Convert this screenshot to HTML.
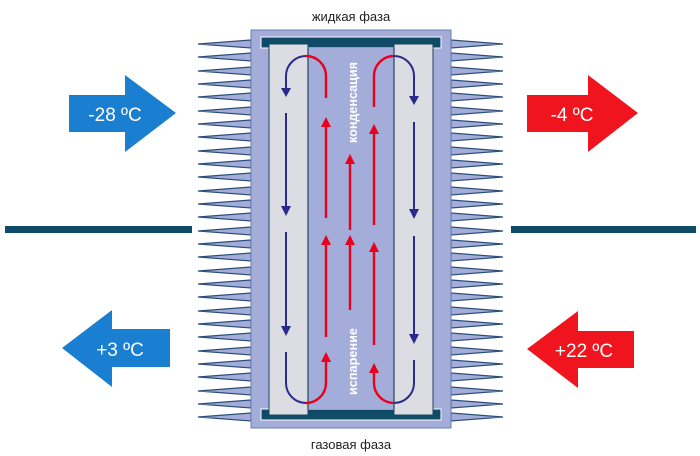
<!DOCTYPE html><html><head><meta charset="utf-8"><style>body{margin:0;background:#fff}svg{display:block}</style></head><body>
<svg width="700" height="456" viewBox="0 0 700 456" xmlns="http://www.w3.org/2000/svg" font-family="Liberation Sans, DejaVu Sans, sans-serif">
<g fill="#a4add9" stroke="#2c4f7a" stroke-width="1.2">
<path d="M251,40 L198,44 L251,48 Z M251,53 L198,57 L251,61 Z M251,67 L198,71 L251,75 Z M251,80 L198,84 L251,88 Z M251,93 L198,97 L251,101 Z M251,107 L198,111 L251,115 Z M251,120 L198,124 L251,128 Z M251,133 L198,137 L251,141 Z M251,147 L198,151 L251,155 Z M251,160 L198,164 L251,168 Z M251,173 L198,177 L251,181 Z M251,187 L198,191 L251,195 Z M251,200 L198,204 L251,208 Z M251,213 L198,217 L251,221 Z M251,227 L198,231 L251,235 Z M251,240 L198,244 L251,248 Z M251,253 L198,257 L251,261 Z M251,267 L198,271 L251,275 Z M251,280 L198,284 L251,288 Z M251,293 L198,297 L251,301 Z M251,307 L198,311 L251,315 Z M251,320 L198,324 L251,328 Z M251,333 L198,337 L251,341 Z M251,347 L198,351 L251,355 Z M251,360 L198,364 L251,368 Z M251,373 L198,377 L251,381 Z M251,387 L198,391 L251,395 Z M251,400 L198,404 L251,408 Z M251,413 L198,417 L251,421 Z"/>
<path transform="translate(700,0) scale(-1,1)" d="M249,40 L197,44 L249,48 Z M249,53 L197,57 L249,61 Z M249,67 L197,71 L249,75 Z M249,80 L197,84 L249,88 Z M249,93 L197,97 L249,101 Z M249,107 L197,111 L249,115 Z M249,120 L197,124 L249,128 Z M249,133 L197,137 L249,141 Z M249,147 L197,151 L249,155 Z M249,160 L197,164 L249,168 Z M249,173 L197,177 L249,181 Z M249,187 L197,191 L249,195 Z M249,200 L197,204 L249,208 Z M249,213 L197,217 L249,221 Z M249,227 L197,231 L249,235 Z M249,240 L197,244 L249,248 Z M249,253 L197,257 L249,261 Z M249,267 L197,271 L249,275 Z M249,280 L197,284 L249,288 Z M249,293 L197,297 L249,301 Z M249,307 L197,311 L249,315 Z M249,320 L197,324 L249,328 Z M249,333 L197,337 L249,341 Z M249,347 L197,351 L249,355 Z M249,360 L197,364 L249,368 Z M249,373 L197,377 L249,381 Z M249,387 L197,391 L249,395 Z M249,400 L197,404 L249,408 Z M249,413 L197,417 L249,421 Z"/>
</g>
<rect x="251" y="30" width="200" height="398" fill="#a4add9" stroke="#6a7fb0" stroke-width="1"/>
<rect x="261" y="37" width="180" height="11" fill="#0f4a66" stroke="#fff" stroke-width="1"/>
<rect x="261" y="409" width="180" height="11" fill="#0f4a66" stroke="#fff" stroke-width="1"/>
<rect x="269" y="44" width="39" height="371" fill="#dcdde2" stroke="#1d4660" stroke-width="1"/>
<rect x="394" y="44" width="39" height="371" fill="#dcdde2" stroke="#1d4660" stroke-width="1"/>
<rect x="308.5" y="48" width="85" height="361" fill="#a4add9"/>
<line x1="308" y1="48" x2="308" y2="409" stroke="#1d4660" stroke-width="1.2"/>
<line x1="394" y1="48" x2="394" y2="409" stroke="#1d4660" stroke-width="1.2"/>
<g fill="none" stroke-width="2">
<g stroke="#2a2a8c">
<path d="M306,56 A20,20 0 0 0 286,76 L286,90"/>
<line x1="286" y1="113" x2="286" y2="209"/>
<line x1="286" y1="232" x2="286" y2="329"/>
<path d="M286,352 L286,383 A20,20 0 0 0 306,403"/>
<path d="M394,56 A20,20 0 0 1 414,76 L414,98"/>
<line x1="414" y1="122" x2="414" y2="212"/>
<line x1="414" y1="236" x2="414" y2="337"/>
<path d="M414,360 L414,383 A20,20 0 0 1 394,403"/>
</g>
<g stroke="#e8001c" stroke-width="2.4">
<path d="M326,98 L326,76 A20,20 0 0 0 306,56"/>
<line x1="326" y1="124" x2="326" y2="218"/>
<line x1="326" y1="241" x2="326" y2="337"/>
<path d="M306,403 A20,20 0 0 0 326,383 L326,358"/>
<line x1="350" y1="160" x2="350" y2="230"/>
<line x1="350" y1="241" x2="350" y2="310"/>
<path d="M374,107 L374,76 A20,20 0 0 1 394,56"/>
<line x1="374" y1="131" x2="374" y2="225"/>
<line x1="374" y1="248" x2="374" y2="345"/>
<path d="M394,403 A20,20 0 0 1 374,383 L374,369"/>
</g>
</g>
<g fill="#2a2a8c">
<path d="M281,88 L291,88 L286,97 Z"/><path d="M281,206 L291,206 L286,216 Z"/><path d="M281,326 L291,326 L286,336 Z"/>
<path d="M409,96 L419,96 L414,105 Z"/><path d="M409,209 L419,209 L414,219 Z"/><path d="M409,334 L419,334 L414,344 Z"/>
</g>
<g fill="#e8001c">
<path d="M321,127 L331,127 L326,117 Z"/><path d="M321,245 L331,245 L326,235 Z"/><path d="M321,362 L331,362 L326,352 Z"/>
<path d="M345,164 L355,164 L350,154 Z"/><path d="M345,245 L355,245 L350,235 Z"/>
<path d="M369,134 L379,134 L374,124 Z"/><path d="M369,252 L379,252 L374,242 Z"/><path d="M369,373 L379,373 L374,363 Z"/>
</g>
<text transform="translate(357,143) rotate(-90)" fill="#fff" font-weight="bold" font-size="13" textLength="81" lengthAdjust="spacingAndGlyphs">конденсация</text>
<text transform="translate(357,395) rotate(-90)" fill="#fff" font-weight="bold" font-size="13" textLength="67" lengthAdjust="spacingAndGlyphs">испарение</text>
<text x="351" y="21" text-anchor="middle" font-size="13" fill="#222">жидкая фаза</text>
<text x="351" y="449" text-anchor="middle" font-size="13" fill="#222">газовая фаза</text>
<rect x="5" y="226" width="187" height="7" fill="#0f4a66"/>
<rect x="511" y="226" width="185" height="7" fill="#0f4a66"/>
<path d="M69,95 L125,95 L125,75 L176,113 L125,152 L125,132 L69,132 Z" fill="#1a7fd0"/>
<text x="115" y="121" text-anchor="middle" fill="#fff" font-size="19">-28 ºC</text>
<path d="M527,95 L588,95 L588,75 L638,113 L588,152 L588,132 L527,132 Z" fill="#f0141e"/>
<text x="572" y="121" text-anchor="middle" fill="#fff" font-size="19">-4 ºC</text>
<path d="M170,329 L112,329 L112,310 L62,348 L112,387 L112,367 L170,367 Z" fill="#1a7fd0"/>
<text x="120" y="356" text-anchor="middle" fill="#fff" font-size="19">+3 ºC</text>
<path d="M634,331 L578,331 L578,311 L527,349 L578,388 L578,368 L634,368 Z" fill="#f0141e"/>
<text x="584" y="357" text-anchor="middle" fill="#fff" font-size="19">+22 ºC</text>
</svg>
</body></html>
